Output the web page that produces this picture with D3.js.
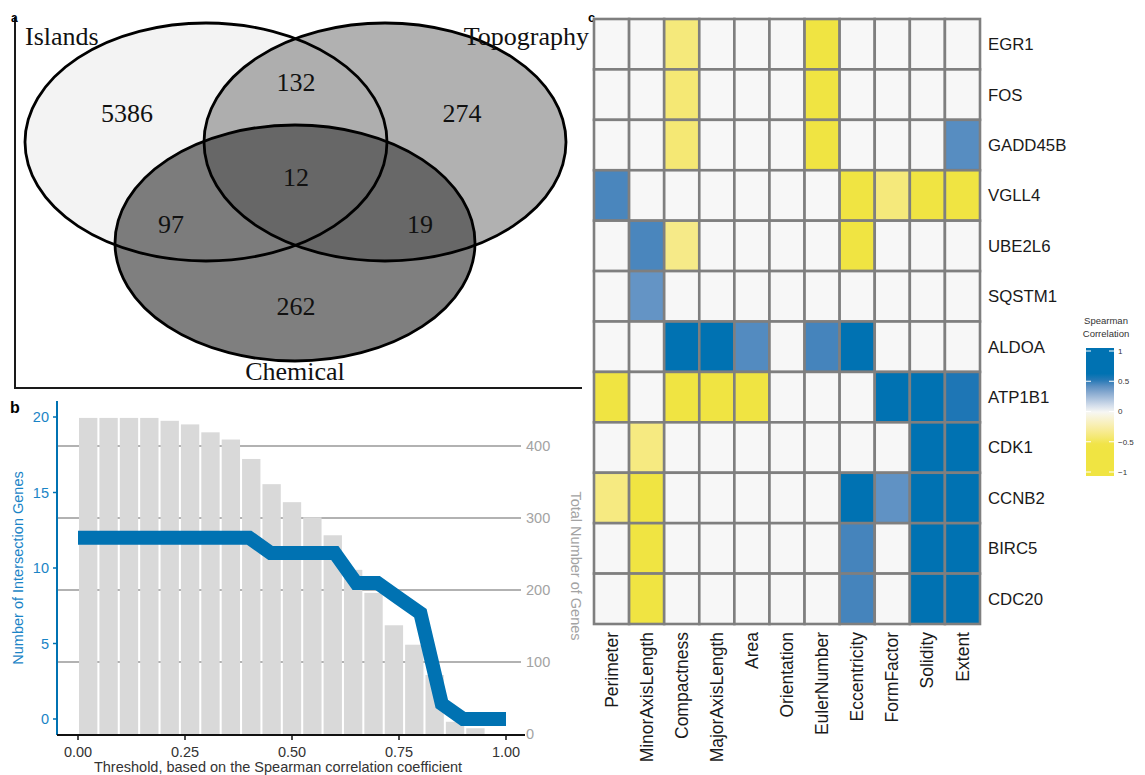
<!DOCTYPE html>
<html><head><meta charset="utf-8">
<script src="https://cdn.jsdelivr.net/npm/d3@7"></script>
<style>body{margin:0;background:#fff}svg{display:block}</style>
</head><body>
<svg id="chart" width="1145" height="775"></svg>
<script>
// ---------- DATA ----------
const vennSets = ["Islands", "Topography", "Chemical"];
// region counts: I only, I&T, T only, I&T&C, I&C, T&C, C only
const vennRegions = ["I", "IT", "T", "ITC", "IC", "TC", "C"];
const vennCounts = [5386, 132, 274, 12, 97, 19, 262];

const thresholds = [0,0.05,0.1,0.15,0.2,0.25,0.3,0.35,0.4,0.45,0.5,0.55,0.6,0.65,0.7,0.75,0.8,0.85,0.9,0.95,1.0];
const intersectionGenes = [12,12,12,12,12,12,12,12,12,11,11,11,11,9,9,8,7,1,0,0,0];
const totalGenes = [439,439,439,439,435,430,419,409,382,347,322,301,276,228,196,151,124,82,17,8,0];
const xTicks = [0, 0.25, 0.5, 0.75, 1];
const leftTicks = [0, 5, 10, 15, 20];
const rightTicks = [0, 100, 200, 300, 400];

const features = ["Perimeter","MinorAxisLength","Compactness","MajorAxisLength","Area","Orientation","EulerNumber","Eccentricity","FormFactor","Solidity","Extent"];
const genes = ["EGR1","FOS","GADD45B","VGLL4","UBE2L6","SQSTM1","ALDOA","ATP1B1","CDK1","CCNB2","BIRC5","CDC20"];
const correlations = [
  [0, 0, -0.4, 0, 0, 0, -0.8, 0, 0, 0, 0],
  [0, 0, -0.42, 0, 0, 0, -0.8, 0, 0, 0, 0],
  [0, 0, -0.42, 0, 0, 0, -0.8, 0, 0, 0, 0.43],
  [0.46, 0, 0, 0, 0, 0, 0, -0.8, -0.4, -0.8, -0.8],
  [0, 0.46, -0.36, 0, 0, 0, 0, -0.8, 0, 0, 0],
  [0, 0.4, 0, 0, 0, 0, 0, 0, 0, 0, 0],
  [0, 0, 0.8, 0.8, 0.44, 0, 0.47, 0.8, 0, 0, 0],
  [-0.8, 0, -0.8, -0.8, -0.8, 0, 0, 0, 0.8, 0.8, 0.53],
  [0, -0.38, 0, 0, 0, 0, 0, 0, 0, 0.8, 0.8],
  [-0.38, -0.8, 0, 0, 0, 0, 0, 0.8, 0.41, 0.8, 0.8],
  [0, -0.8, 0, 0, 0, 0, 0, 0.47, 0, 0.8, 0.8],
  [0, -0.8, 0, 0, 0, 0, 0, 0.47, 0, 0.8, 0.8]
];
const legendTicks = [1, 0.5, 0, -0.5, -1];

// ---------- DRAW ----------
const svg = d3.select("#chart");
const sans = "Liberation Sans, Arial, Helvetica, sans-serif";
const serif = "Liberation Serif, Times New Roman, serif";
const blue = "#0072B2";
const blueText = "#1a84c6";
const fb = 14.5;

// ===== Panel a : Venn =====
const ga = svg.append("g");
ga.append("path").attr("d","M15,17V388H582").attr("fill","none").attr("stroke","#1a1a1a").attr("stroke-width",2);
ga.append("text").attr("x",11).attr("y",22).attr("font-family",sans).attr("font-weight","bold").attr("font-size",12).text("a");

const ellipses = [
  {cx:206, cy:142, rx:181, ry:119, fill:"#f3f3f3", op:1},
  {cx:385, cy:142, rx:181, ry:119, fill:"#979797", op:0.75},
  {cx:295, cy:243, rx:180, ry:118, fill:"#494949", op:0.705}
];
ga.selectAll("ellipse.f").data(ellipses).join("ellipse")
  .attr("cx",d=>d.cx).attr("cy",d=>d.cy).attr("rx",d=>d.rx).attr("ry",d=>d.ry)
  .attr("fill",d=>d.fill).attr("fill-opacity",d=>d.op).attr("stroke","none");
ga.selectAll("ellipse.s").data(ellipses).join("ellipse").attr("class","s")
  .attr("cx",d=>d.cx).attr("cy",d=>d.cy).attr("rx",d=>d.rx).attr("ry",d=>d.ry)
  .attr("fill","none").attr("stroke","#000").attr("stroke-width",2.8);

const regionPos = {I:[127,122], IT:[296,91], T:[462,122], ITC:[296,186], IC:[171,233], TC:[420,233], C:[296,315]};
ga.selectAll("text.cnt").data(vennRegions).join("text").attr("class","cnt")
  .attr("x",r=>regionPos[r][0]).attr("y",r=>regionPos[r][1])
  .attr("text-anchor","middle").attr("font-family",serif).attr("font-size",26).attr("fill","#111")
  .text((r,i)=>vennCounts[i]);
const setLabelPos = [[25,45,"start"],[589,45,"end"],[295,380,"middle"]];
ga.selectAll("text.set").data(vennSets).join("text").attr("class","set")
  .attr("x",(d,i)=>setLabelPos[i][0]).attr("y",(d,i)=>setLabelPos[i][1])
  .attr("text-anchor",(d,i)=>setLabelPos[i][2]).attr("font-family",serif).attr("font-size",26).attr("fill","#111")
  .text(d=>d);

// ===== Panel b : bars + line =====
const gb = svg.append("g");
const x = d3.scaleLinear([0,1],[78,506]);
const yL = d3.scaleLinear([0,20],[719,417]);
const yR = d3.scaleLinear([0,400],[734,446]);
const xb = d3.scaleBand(d3.range(thresholds.length),[78,506]).paddingInner(0.1).paddingOuter(0.05);

gb.append("text").attr("x",10).attr("y",413).attr("font-family",sans).attr("font-weight","bold").attr("font-size",16).text("b");

gb.selectAll("line.grid").data(rightTicks.filter(t=>t>0)).join("line").attr("class","grid")
  .attr("x1",57).attr("x2",521).attr("y1",d=>yR(d)).attr("y2",d=>yR(d))
  .attr("stroke","#999").attr("stroke-width",1.6);
gb.selectAll("rect.bar").data(totalGenes).join("rect").attr("class","bar")
  .attr("x",(d,i)=>xb(i)).attr("width",xb.bandwidth())
  .attr("y",d=>yR(d)).attr("height",d=>yR(0)-yR(d)).attr("fill","#d9d9d9");
gb.selectAll("text.rt").data(rightTicks).join("text").attr("class","rt")
  .attr("x",526).attr("y",d=>yR(d)).attr("dy","0.35em")
  .attr("font-family",sans).attr("font-size",fb).attr("fill","#a3a3a3").text(d=>d);
gb.append("text").attr("transform","translate(571,566) rotate(90)").attr("text-anchor","middle")
  .attr("font-family",sans).attr("font-size",fb).attr("fill","#a3a3a3").text("Total Number of Genes");

const line = d3.line().x((d,i)=>x(thresholds[i])).y(d=>yL(d));
gb.append("path").datum(intersectionGenes).attr("d",line).attr("fill","none")
  .attr("stroke",blue).attr("stroke-width",14).attr("stroke-linejoin","miter").attr("stroke-linecap","butt");

gb.append("line").attr("x1",57).attr("x2",57).attr("y1",401).attr("y2",735).attr("stroke",blue).attr("stroke-width",2);
gb.selectAll("line.lt").data(leftTicks).join("line").attr("class","lt")
  .attr("x1",53).attr("x2",57).attr("y1",d=>yL(d)).attr("y2",d=>yL(d)).attr("stroke",blue).attr("stroke-width",1.5);
gb.selectAll("text.lt").data(leftTicks).join("text").attr("class","lt")
  .attr("x",49).attr("y",d=>yL(d)).attr("dy","0.35em").attr("text-anchor","end")
  .attr("font-family",sans).attr("font-size",fb).attr("fill",blueText).text(d=>d);
gb.append("text").attr("transform","translate(23,568) rotate(-90)").attr("text-anchor","middle")
  .attr("font-family",sans).attr("font-size",fb).attr("fill",blueText).text("Number of Intersection Genes");

gb.append("line").attr("x1",57).attr("x2",525).attr("y1",735).attr("y2",735).attr("stroke","#111").attr("stroke-width",2);
gb.selectAll("line.xt").data(xTicks).join("line").attr("class","xt")
  .attr("x1",d=>x(d)).attr("x2",d=>x(d)).attr("y1",735).attr("y2",740).attr("stroke","#111").attr("stroke-width",1.5);
gb.selectAll("text.xt").data(xTicks).join("text").attr("class","xt")
  .attr("x",d=>x(d)).attr("y",752).attr("dy","0.35em").attr("text-anchor","middle")
  .attr("font-family",sans).attr("font-size",fb).attr("fill","#333").text(d=>d3.format(".2f")(d));
gb.append("text").attr("x",278).attr("y",772).attr("text-anchor","middle")
  .attr("font-family",sans).attr("font-size",fb).attr("fill","#333")
  .text("Threshold, based on the Spearman correlation coefficient");

// ===== Panel c : heatmap =====
const gc = svg.append("g");
const color = d3.scaleLinear().domain([-1,-0.55,0,0.55,1])
  .range(["#F0E442","#F0E442","#F7F7F7","#0072B2","#0072B2"]).interpolate(d3.interpolateLab).clamp(true);
const xc = d3.scaleBand(features,[594,980]);
const yc = d3.scaleBand(genes,[19,624]);
gc.append("text").attr("x",588).attr("y",22).attr("font-family",sans).attr("font-weight","bold").attr("font-size",13).text("c");

const cells = [];
genes.forEach((g,r)=>features.forEach((f,c)=>cells.push({g,f,v:correlations[r][c]})));
gc.selectAll("rect.cell").data(cells).join("rect").attr("class","cell")
  .attr("x",d=>xc(d.f)).attr("y",d=>yc(d.g)).attr("width",xc.bandwidth()).attr("height",yc.bandwidth())
  .attr("fill",d=>color(d.v)).attr("stroke","#7f7f7f").attr("stroke-width",2.6);

gc.selectAll("text.row").data(genes).join("text").attr("class","row")
  .attr("x",988).attr("y",d=>yc(d)+yc.bandwidth()/2).attr("dy","0.35em")
  .attr("font-family",sans).attr("font-size",16.8).attr("fill","#1a1a1a").text(d=>d);
gc.selectAll("text.col").data(features).join("text").attr("class","col")
  .attr("transform",d=>`translate(${xc(d)+xc.bandwidth()/2},632) rotate(-90)`)
  .attr("dy","0.35em").attr("text-anchor","end")
  .attr("font-family",sans).attr("font-size",17.5).attr("fill","#1a1a1a").text(d=>d);

// legend
const yLeg = d3.scaleLinear([-1,1],[472,351]);
const defs = svg.append("defs");
const grad = defs.append("linearGradient").attr("id","lg").attr("x1",0).attr("x2",0).attr("y1",0).attr("y2",1);
const topV = yLeg.invert(348), botV = yLeg.invert(476);
d3.range(0,1.0001,0.05).forEach(t=>{
  const v = topV + (botV-topV)*t;
  grad.append("stop").attr("offset",t).attr("stop-color",color(v));
});
gc.append("rect").attr("x",1086).attr("y",348).attr("width",28).attr("height",128).attr("fill","url(#lg)");
gc.selectAll("line.lgl").data(legendTicks).join("line").attr("class","lgl")
  .attr("x1",1086).attr("x2",1091).attr("y1",d=>yLeg(d)).attr("y2",d=>yLeg(d)).attr("stroke","#fff").attr("stroke-width",1);
gc.selectAll("line.lgr").data(legendTicks).join("line").attr("class","lgr")
  .attr("x1",1109).attr("x2",1114).attr("y1",d=>yLeg(d)).attr("y2",d=>yLeg(d)).attr("stroke","#fff").attr("stroke-width",1);
gc.selectAll("text.lgt").data(legendTicks).join("text").attr("class","lgt")
  .attr("x",1118).attr("y",d=>yLeg(d)).attr("dy","0.35em")
  .attr("font-family",sans).attr("font-size",8).attr("fill","#333").text(d=>d===0?"0":String(d).replace("-","\u2212"));
gc.append("text").attr("x",1106).attr("y",324).attr("text-anchor","middle").attr("font-family",sans).attr("font-size",9.5).attr("fill","#333").text("Spearman");
gc.append("text").attr("x",1106).attr("y",337).attr("text-anchor","middle").attr("font-family",sans).attr("font-size",9.5).attr("fill","#333").text("Correlation");
</script>
</body></html>
